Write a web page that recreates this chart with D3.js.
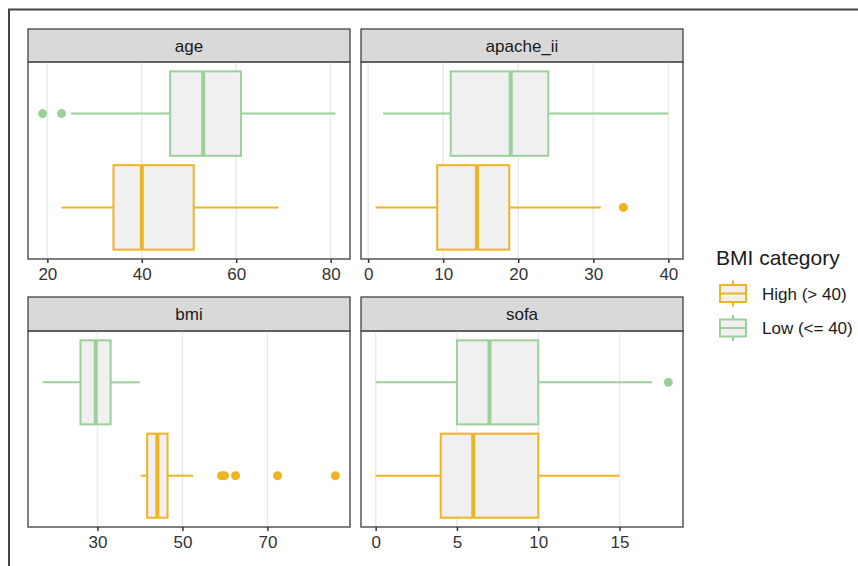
<!DOCTYPE html>
<html>
<head>
<meta charset="utf-8">
<script src="https://cdn.jsdelivr.net/npm/d3@7"></script>
<style>
  body { margin: 0; background: #fff; }
  svg { font-family: "Liberation Sans", Arial, sans-serif; }
</style>
</head>
<body>
<div class="panel"></div>
<script>
const width = 858;
const height = 566;

// facets and groups
const variables = ["age", "apache_ii", "bmi", "sofa"];
const groups = ["High (> 40)", "Low (<= 40)"];
const groupColors = ["#EEB422", "#9BD09B"];

// [lower whisker, q1, median, q3, upper whisker]
const ageHigh = [23, 34, 40, 51, 69];
const ageLow = [25, 46, 53, 61, 81];
const apacheHigh = [1, 9.2, 14.5, 18.8, 31];
const apacheLow = [2, 11, 19, 24, 40];
const bmiHigh = [40.2, 41.7, 44.1, 46.5, 52.5];
const bmiLow = [17.1, 26, 29.6, 33.1, 40];
const sofaHigh = [0, 4, 6, 10, 15];
const sofaLow = [0, 5, 7, 10, 17];

// outliers
const ageOutHigh = [];
const ageOutLow = [19, 23];
const apacheOutHigh = [34];
const apacheOutLow = [];
const bmiOutHigh = [59.2, 59.9, 62.5, 72.4, 86];
const bmiOutLow = [];
const sofaOutHigh = [];
const sofaOutLow = [18];

// tick labels
const ageTicks = [20, 40, 60, 80];
const apacheTicks = [0, 10, 20, 30, 40];
const bmiTicks = [30, 50, 70];
const sofaTicks = [0, 5, 10, 15];

const stats = [[ageHigh, ageLow], [apacheHigh, apacheLow], [bmiHigh, bmiLow], [sofaHigh, sofaLow]];
const outliers = [[ageOutHigh, ageOutLow], [apacheOutHigh, apacheOutLow], [bmiOutHigh, bmiOutLow], [sofaOutHigh, sofaOutLow]];
const ticks = [ageTicks, apacheTicks, bmiTicks, sofaTicks];

const cols = [{x0: 28, x1: 350}, {x0: 361, x1: 683}];
const rows = [{s0: 29, y0: 62, y1: 259}, {s0: 297, y0: 331, y1: 527}];

const svg = d3.select(".panel")
  .append("svg")
  .attr("width", width)
  .attr("height", height);

// outer frame
svg.append("path")
  .attr("d", `M9,566 L9,9.5 L858,9.5`)
  .attr("fill", "none")
  .attr("stroke", "#444")
  .attr("stroke-width", 2);

variables.forEach((name, i) => {
  const col = cols[i % 2];
  const row = rows[Math.floor(i / 2)];

  // data range with 5% expansion, like ggplot
  const all = stats[i].flat().concat(outliers[i].flat());
  const lo = d3.min(all), hi = d3.max(all);
  const pad = (hi - lo) * 0.05;
  const x = d3.scaleLinear().domain([lo - pad, hi + pad]).range([col.x0, col.x1]);
  const y = d3.scaleLinear().domain([0.45, 2.55]).range([row.y1, row.y0]);
  const half = 0.45;

  const g = svg.append("g");

  // strip
  g.append("rect")
    .attr("x", col.x0).attr("y", row.s0)
    .attr("width", col.x1 - col.x0).attr("height", row.y0 - row.s0)
    .attr("fill", "#D9D9D9").attr("stroke", "#333").attr("stroke-width", 1.2);
  g.append("text")
    .attr("x", (col.x0 + col.x1) / 2).attr("y", (row.s0 + row.y0) / 2 + 6)
    .attr("text-anchor", "middle")
    .attr("font-size", 17).attr("fill", "#1A1A1A")
    .text(name);

  // grid
  g.selectAll(".grid")
    .data(ticks[i])
    .enter()
    .append("line")
    .attr("x1", d => x(d)).attr("x2", d => x(d))
    .attr("y1", row.y0).attr("y2", row.y1)
    .attr("stroke", "#EBEBEB").attr("stroke-width", 1.5);

  // boxes
  groups.forEach((grp, k) => {
    const s = stats[i][k];
    const c = groupColors[k];
    const cy = y(k + 1);
    const top = y(k + 1 + half), bot = y(k + 1 - half);
    g.append("line")
      .attr("x1", x(s[0])).attr("x2", x(s[1]))
      .attr("y1", cy).attr("y2", cy)
      .attr("stroke", c).attr("stroke-width", 2);
    g.append("line")
      .attr("x1", x(s[3])).attr("x2", x(s[4]))
      .attr("y1", cy).attr("y2", cy)
      .attr("stroke", c).attr("stroke-width", 2);
    g.append("rect")
      .attr("x", x(s[1])).attr("y", top)
      .attr("width", x(s[3]) - x(s[1])).attr("height", bot - top)
      .attr("fill", "#F0F0F0").attr("stroke", c).attr("stroke-width", 2);
    g.append("line")
      .attr("x1", x(s[2])).attr("x2", x(s[2]))
      .attr("y1", top).attr("y2", bot)
      .attr("stroke", c).attr("stroke-width", 4);
    g.selectAll(null)
      .data(outliers[i][k])
      .enter()
      .append("circle")
      .attr("cx", d => x(d)).attr("cy", cy)
      .attr("r", 4.5).attr("fill", c);
  });

  // panel border
  g.append("rect")
    .attr("x", col.x0).attr("y", row.y0)
    .attr("width", col.x1 - col.x0).attr("height", row.y1 - row.y0)
    .attr("fill", "none").attr("stroke", "#555").attr("stroke-width", 1.5);

  // axis
  const axis = d3.axisBottom(x).tickValues(ticks[i]).tickSize(4).tickPadding(5);
  const ax = g.append("g")
    .attr("transform", `translate(0, ${row.y1})`)
    .call(axis);
  ax.select(".domain").remove();
  ax.selectAll(".tick line").attr("stroke", "#333").attr("stroke-width", 1.5);
  ax.selectAll(".tick text")
    .attr("font-size", 17).attr("fill", "#333")
    .attr("font-family", "\"Liberation Sans\", Arial, sans-serif");
});

// legend
const legend = svg.append("g").attr("transform", "translate(716, 0)");
legend.append("text")
  .attr("x", 0).attr("y", 265)
  .attr("font-size", 21).attr("fill", "#1A1A1A")
  .text("BMI category");

groups.forEach((grp, k) => {
  const cy = 293.5 + k * 34.5;
  const c = groupColors[k];
  const key = legend.append("g");
  key.append("line")
    .attr("x1", 17).attr("x2", 17).attr("y1", cy - 13).attr("y2", cy + 13)
    .attr("stroke", c).attr("stroke-width", 2);
  key.append("rect")
    .attr("x", 4).attr("y", cy - 8.5).attr("width", 26).attr("height", 17)
    .attr("fill", "#F0F0F0").attr("stroke", c).attr("stroke-width", 2);
  key.append("line")
    .attr("x1", 4).attr("x2", 30).attr("y1", cy).attr("y2", cy)
    .attr("stroke", c).attr("stroke-width", 2);
  legend.append("text")
    .attr("x", 46).attr("y", cy + 6)
    .attr("font-size", 17).attr("fill", "#1A1A1A")
    .text(grp);
});
</script>
</body>
</html>
